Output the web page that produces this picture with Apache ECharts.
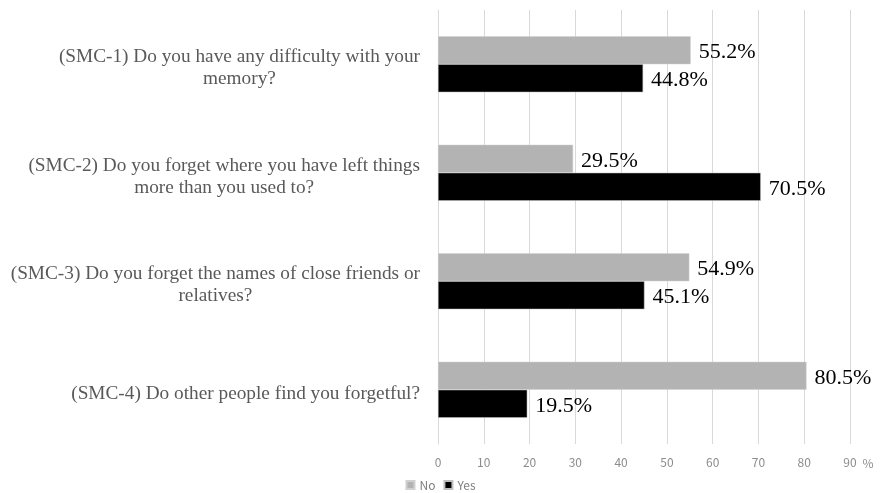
<!DOCTYPE html>
<html>
<head>
<meta charset="utf-8">
<script src="https://cdn.jsdelivr.net/npm/echarts@6/dist/echarts.min.js"></script>
<style>
  html, body { margin: 0; padding: 0; background: #fff; }
  #main { width: 881px; height: 493px; }
</style>
</head>
<body>
<div id="main"></div>
<script>
// questions (top to bottom)
const categories = [
  "(SMC-1) Do you have any difficulty with your\nmemory?",
  "(SMC-2) Do you forget where you have left things\nmore than you used to?",
  "(SMC-3) Do you forget the names of close friends or\nrelatives?",
  "(SMC-4) Do other people find you forgetful?"
];
const noValues = [55.2, 29.5, 54.9, 80.5];
const yesValues = [44.8, 70.5, 45.1, 19.5];
const xTicks = [0, 10, 20, 30, 40, 50, 60, 70, 80, 90];

let chart = echarts.init(document.getElementById("main"));

let valueLabel = {
  show: true,
  position: "right",
  distance: 8,
  offset: [0, 2],
  color: "#000",
  fontFamily: "Liberation Serif, Times New Roman, serif",
  fontSize: 22,
  formatter: (p) => p.value.toFixed(1) + "%",
};

let option = {
  animation: false,
  grid: { left: 438, right: 31, top: 10, bottom: 49 },
  legend: {
    bottom: -3,
    left: "center",
    itemWidth: 8,
    itemHeight: 8,
    itemGap: 8,
    icon: "rect",
    textStyle: { color: "#7f7f7f", fontSize: 12, fontFamily: "Noto Sans CJK JP" },
    data: ["No", "Yes"],
  },
  xAxis: {
    type: "value",
    min: xTicks[0],
    max: xTicks[xTicks.length - 1],
    interval: 10,
    name: "%",
    nameLocation: "end",
    nameGap: 12,
    nameTextStyle: { color: "#8c8c8c", fontSize: 12, fontFamily: "Noto Sans CJK JP", verticalAlign: "top", padding: [13, 0, 0, 0] },
    axisLine: { show: false },
    axisTick: { show: false },
    axisLabel: { color: "#8c8c8c", fontSize: 12, fontFamily: "Noto Sans CJK JP", margin: 12 },
    splitLine: { lineStyle: { color: "#d9d9d9", width: 1 } },
  },
  yAxis: {
    type: "category",
    inverse: true,
    data: categories,
    axisLine: { show: true, lineStyle: { color: "#d9d9d9" } },
    axisTick: { show: false },
    axisLabel: {
      margin: 18,
      padding: [8, 0, 0, 0],
      formatter: (v) => v.split("\n").map((s) => "{a|" + s + "}").join("\n"),
      rich: {
        a: {
          align: "center",
          color: "#595959",
          fontSize: 19.3,
          lineHeight: 22,
          fontFamily: "Liberation Serif, Times New Roman, serif",
        },
      },
    },
  },
  series: [
    {
      name: "No",
      type: "bar",
      data: noValues,
      barWidth: 28,
      barGap: "0%",
      itemStyle: { color: "#b3b3b3", borderColor: "#d0d0d0", borderWidth: 0.5 },
      label: valueLabel,
    },
    {
      name: "Yes",
      type: "bar",
      data: yesValues,
      barWidth: 28,
      barGap: "0%",
      itemStyle: { color: "#000", borderColor: "#bfbfbf", borderWidth: 0.5 },
      label: valueLabel,
    },
  ],
};

option && chart.setOption(option);
</script>
</body>
</html>
